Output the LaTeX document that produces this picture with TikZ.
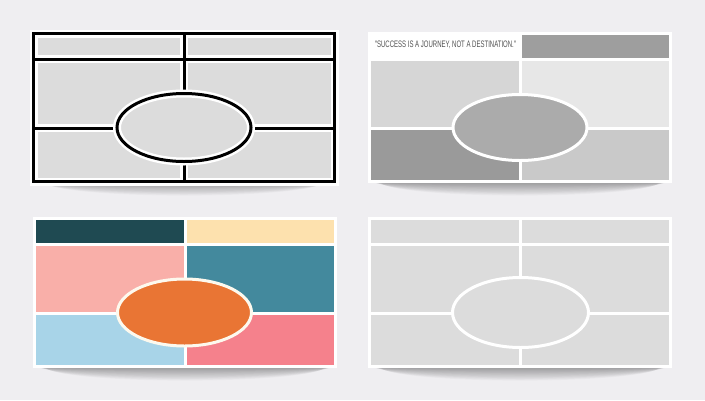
\documentclass[tikz,border=0pt]{standalone}
\usepackage{fontspec}
\newfontfamily\quotefont[FakeStretch=0.64]{Liberation Sans}
\usetikzlibrary{positioning}
\definecolor{bg}{HTML}{EFEEF1}
\definecolor{cellgray}{HTML}{DCDCDC}
\definecolor{greyTR}{HTML}{9E9E9E}
\definecolor{greyML}{HTML}{D6D6D6}
\definecolor{greyMR}{HTML}{E7E7E7}
\definecolor{greyBL}{HTML}{9A9A9A}
\definecolor{greyBR}{HTML}{C9C9C9}
\definecolor{greyOval}{HTML}{ABABAB}
\definecolor{colTL}{HTML}{1F4A52}
\definecolor{colTR}{HTML}{FDE1AE}
\definecolor{colML}{HTML}{F9AFA9}
\definecolor{colMR}{HTML}{43899D}
\definecolor{colBL}{HTML}{A8D4E8}
\definecolor{colBR}{HTML}{F5818C}
\definecolor{colOval}{HTML}{E97534}
\definecolor{cream}{HTML}{FDF9EE}
\tikzset{
    gapline/.style = {white, line width=3pt},
    halo/.style = {white, line width=8pt},
    blackline/.style = {black, line width=3pt},
    shadowlayer/.style = {black, opacity=0.025},
    quote/.style = {inner sep=0pt, text=black!68, font=\quotefont\fontsize{9.4}{10}\selectfont}
}
% the grid of one board, in board coordinates
\newcommand{\boardlines}{(0,27) -- (304,27) (0,96) -- (304,96) (152,0) -- (152,151) (1.5,1.5) rectangle (302.5,149.5)}
\newcommand{\boardcells}[6]{%
    \fill[#1] (0,0) rectangle (152,27);
    \fill[#2] (152,0) rectangle (304,27);
    \fill[#3] (0,27) rectangle (152,96);
    \fill[#4] (152,27) rectangle (304,96);
    \fill[#5] (0,96) rectangle (152,151);
    \fill[#6] (152,96) rectangle (304,151);
}
\begin{document}
\begin{tikzpicture}[x=1pt, y=-1pt]
    \fill[bg] (0,0) rectangle (705,400);
    \useasboundingbox (0,0) rectangle (705,400);
    % soft shadows under the boards
    \foreach \px/\py in {32/32, 368/32, 33/217, 368/217} {
        \foreach \i in {1,...,16} {
            \fill[shadowlayer] (\px+152,\py+150) ellipse [x radius=153-\i*0.9, y radius=\i*0.85];
        }
    }
    % black outlined board
    \begin{scope}[shift={(32,32)}]
        \fill[cellgray] (0,0) rectangle (304,151);
        \draw[halo] \boardlines;
        \draw[blackline] \boardlines;
        \coordinate (o1) at (152,95.5);
        \draw[halo, fill=cellgray] (o1) ellipse [x radius=67, y radius=34];
        \draw[blackline] (o1) ellipse [x radius=67, y radius=34];
    \end{scope}
    % grey board with quote
    \begin{scope}[shift={(368,32)}]
        \boardcells{white}{greyTR}{greyML}{greyMR}{greyBL}{greyBR}
        \draw[gapline] \boardlines;
        \node[quote] (q) at (77.5,12.5) {"SUCCESS IS A JOURNEY, NOT A DESTINATION."};
        \coordinate (o2) at (152,95.5);
        \draw[gapline, fill=greyOval] (o2) ellipse [x radius=67, y radius=33];
    \end{scope}
    % coloured board
    \begin{scope}[shift={(33,217)}]
        \boardcells{colTL}{colTR}{colML}{colMR}{colBL}{colBR}
        \draw[gapline] \boardlines;
        \coordinate (o3) at (151.5,95.5);
        \draw[gapline, draw=cream, fill=colOval] (o3) ellipse [x radius=67, y radius=33.5];
    \end{scope}
    % plain board
    \begin{scope}[shift={(368,217)}]
        \fill[cellgray] (0,0) rectangle (304,151);
        \draw[gapline] \boardlines;
        \coordinate (o4) at (152.5,95.5);
        \draw[gapline, fill=cellgray] (o4) ellipse [x radius=68, y radius=35];
    \end{scope}
\end{tikzpicture}
\end{document}
